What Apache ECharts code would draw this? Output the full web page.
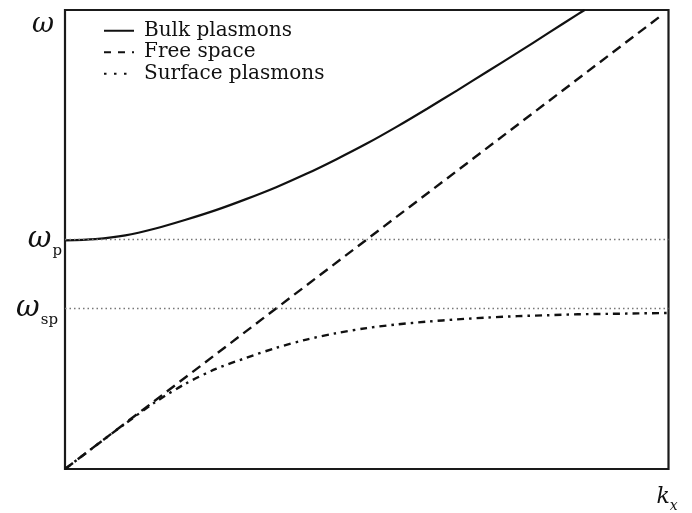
<!DOCTYPE html>
<html>
<head>
<meta charset="utf-8">
<script src="https://cdn.jsdelivr.net/npm/echarts@6/dist/echarts.min.js"></script>
<style>html,body{margin:0;padding:0;background:#fff;}#c{width:692px;height:513px;}</style>
</head>
<body>
<div id="c"></div>
<script>
// Values (k_x and omega in fractions of the plot range)
const seriesNames = ['Bulk plasmons', 'Free space', 'Surface plasmons'];
const kBulk = [0, 0.05, 0.1, 0.15, 0.2, 0.25, 0.3, 0.35, 0.4, 0.45, 0.5, 0.55, 0.6, 0.65, 0.7, 0.75, 0.8, 0.85, 0.861];
const wBulk = [0.498, 0.501, 0.509, 0.524, 0.543, 0.564, 0.588, 0.614, 0.643, 0.675, 0.709, 0.746, 0.785, 0.825, 0.866, 0.907, 0.949, 0.991, 1.0];
const kFree = [0, 0.99];
const wFree = [0, 0.99];
const kSurf = [0, 0.05, 0.1, 0.15, 0.2, 0.25, 0.3, 0.35, 0.4, 0.45, 0.5, 0.55, 0.6, 0.65, 0.7, 0.75, 0.8, 0.85, 0.9, 0.95, 1.0];
const wSurf = [0, 0.05, 0.099, 0.146, 0.186, 0.218, 0.242, 0.264, 0.282, 0.296, 0.307, 0.315, 0.321, 0.326, 0.330, 0.333, 0.335, 0.337, 0.338, 0.339, 0.340];
const omegaP = 0.497;
const omegaSP = 0.351;

const zip = (a, b) => a.map((v, i) => [v, b[i]]);
const serif = 'DejaVu Serif';
const ink = '#111';

const chart = echarts.init(document.getElementById('c'));
chart.setOption({
  animation: false,
  backgroundColor: '#fff',
  grid: { left: 65, top: 10, right: 23.5, bottom: 39.5, show: true, borderColor: '#1a1a1a', borderWidth: 2.2, backgroundColor: 'transparent' },
  legend: {
    orient: 'vertical', left: 98, top: 15, itemWidth: 30, itemHeight: 14, itemGap: 0,
    itemStyle: { color: 'transparent', borderWidth: 0, opacity: 0 },
    textStyle: { fontFamily: serif, fontSize: 20, color: '#111', lineHeight: 21.5, padding: [0, 0, 0, 5] },
    data: [
      { name: seriesNames[0] },
      { name: seriesNames[1], lineStyle: { type: [7, 7] } },
      { name: seriesNames[2], lineStyle: { type: [2.5, 7.5] } }
    ]
  },
  xAxis: {
    type: 'value', min: 0, max: 1,
    axisLine: { show: false }, axisTick: { show: false }, axisLabel: { show: false }, splitLine: { show: false },
    name: '{k|k}{x|x}', nameLocation: 'end', nameGap: -12,
    nameTextStyle: { align: 'left', verticalAlign: 'top', padding: [12, 0, 0, 0],
      rich: { k: { fontFamily: serif, fontStyle: 'italic', fontSize: 22, color: ink },
              x: { fontFamily: serif, fontStyle: 'italic', fontSize: 14, color: ink, padding: [18, 0, 0, 0] } } }
  },
  yAxis: {
    type: 'value', min: 0, max: 1,
    axisLine: { show: false }, axisTick: { show: false }, axisLabel: { show: false }, splitLine: { show: false },
    name: 'ω', nameLocation: 'end', nameGap: -15,
    nameTextStyle: { fontFamily: serif, fontStyle: 'italic', fontSize: 27, color: ink, align: 'right', verticalAlign: 'middle', padding: [0, 11, 0, 0] }
  },
  series: [
    {
      name: seriesNames[0], type: 'line', data: zip(kBulk, wBulk), symbol: 'none', smooth: 0.3,
      lineStyle: { color: ink, width: 2.2, type: 'solid' }, itemStyle: { color: ink },
      markLine: {
        silent: true, symbol: 'none',
        lineStyle: { color: '#777', width: 1.3, type: [1.5, 3] },
        label: {
          position: 'start', color: ink,
          rich: {
            w: { fontFamily: serif, fontStyle: 'italic', fontSize: 29, color: ink },
            s: { fontFamily: serif, fontSize: 15, color: ink, padding: [24, 0, 0, 1] }
          }
        },
        data: [
          { yAxis: omegaP, label: { formatter: '{w|ω}{s|p}', distance: 3 } },
          { yAxis: omegaSP, label: { formatter: '{w|ω}{s|sp}', distance: 7 } }
        ]
      }
    },
    {
      name: seriesNames[1], type: 'line', data: zip(kFree, wFree), symbol: 'none',
      lineStyle: { color: ink, width: 2.4, type: [10, 6] }, itemStyle: { color: ink }
    },
    {
      name: seriesNames[2], type: 'line', data: zip(kSurf, wSurf), symbol: 'none', smooth: 0.3,
      lineStyle: { color: ink, width: 2.4, type: [7, 5, 2.5, 5] }, itemStyle: { color: ink }
    }
  ]
});
</script>
</body>
</html>
